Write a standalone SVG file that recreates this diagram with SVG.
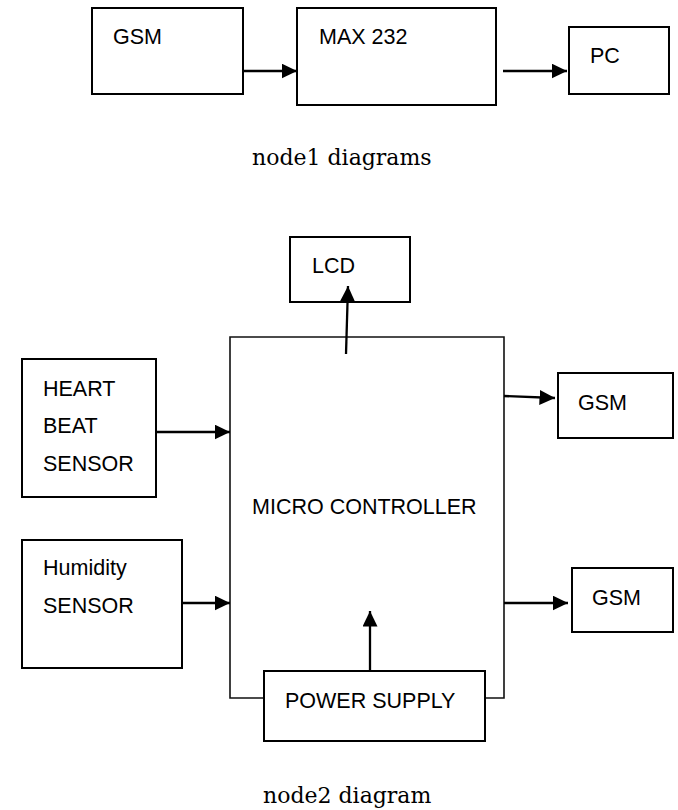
<svg xmlns="http://www.w3.org/2000/svg" width="678" height="810" viewBox="0 0 678 810">
<style>
.box{fill:#fff;stroke:#000;stroke-width:2}
.mc{fill:none;stroke:#111;stroke-width:1.6}
.lbl{font-family:"Liberation Sans",Arial,sans-serif;font-size:21.5px;fill:#000}
.cap{font-family:"DejaVu Serif","Liberation Serif",serif;font-size:22px;fill:#000}
.conn{stroke:#000;stroke-width:2.3;fill:none;marker-end:url(#ah)}
</style>
<defs>
<marker id="ah" markerUnits="userSpaceOnUse" markerWidth="16" markerHeight="16" refX="15.5" refY="7.5" orient="auto">
<path d="M0,0 L15.5,7.5 L0,15 Z" fill="#000"/>
</marker>
</defs>
<rect width="678" height="810" fill="#fff"/>

<g id="gsm-top"><rect class="box" x="92" y="8" width="151" height="86"/><text class="lbl" x="113" y="44">GSM</text></g>
<g id="max232"><rect class="box" x="297" y="8" width="199" height="97"/><text class="lbl" x="319" y="44">MAX 232</text></g>
<g id="pc"><rect class="box" x="569" y="27" width="100" height="67"/><text class="lbl" x="590" y="63">PC</text></g>
<text class="cap" x="252" y="165">node1 diagrams</text>

<g id="micro-controller"><path class="mc" d="M264,698 H230 V337 H504 V698 H485"/><text class="lbl" x="252" y="514">MICRO CONTROLLER</text></g>
<g id="lcd"><rect class="box" x="290" y="237" width="120" height="65"/><text class="lbl" x="312" y="273">LCD</text></g>
<g id="heart"><rect class="box" x="22" y="359" width="134" height="138"/><text class="lbl" x="43" y="396">HEART</text><text class="lbl" x="43" y="433">BEAT</text><text class="lbl" x="43" y="471">SENSOR</text></g>
<g id="gsm1"><rect class="box" x="558" y="373" width="115" height="65"/><text class="lbl" x="578" y="410">GSM</text></g>
<g id="humidity"><rect class="box" x="22" y="540" width="160" height="128"/><text class="lbl" x="43" y="575">Humidity</text><text class="lbl" x="43" y="613">SENSOR</text></g>
<g id="gsm2"><rect class="box" x="572" y="568" width="101" height="64"/><text class="lbl" x="592" y="605">GSM</text></g>
<g id="power"><rect class="box" x="264" y="671" width="221" height="70"/><text class="lbl" x="285" y="708">POWER SUPPLY</text></g>
<text class="cap" x="263" y="803">node2 diagram</text>

<g id="connectors">
<line class="conn" x1="243" y1="71" x2="297" y2="71"/>
<line class="conn" x1="503" y1="71" x2="567" y2="71"/>
<line class="conn" x1="346" y1="354" x2="348" y2="286"/>
<line class="conn" x1="156" y1="432" x2="230" y2="432"/>
<line class="conn" x1="504" y1="396" x2="555" y2="398"/>
<line class="conn" x1="182" y1="603" x2="230" y2="603"/>
<line class="conn" x1="504" y1="603" x2="568" y2="603"/>
<line class="conn" x1="370" y1="671" x2="370" y2="611"/>
</g>
</svg>
